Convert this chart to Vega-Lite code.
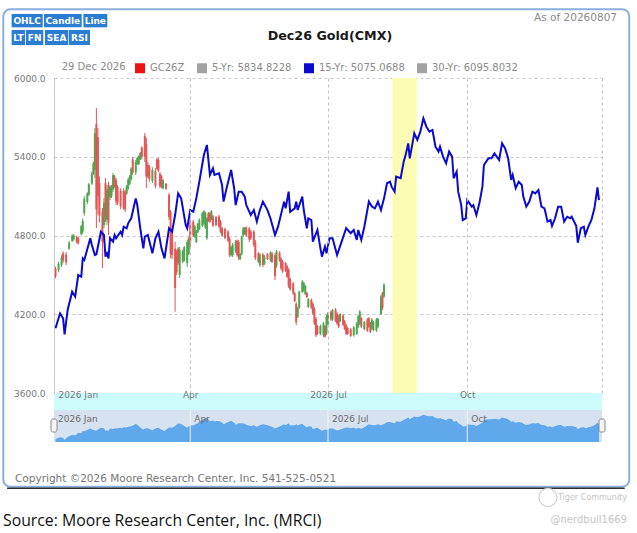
{
  "$schema": "https://vega.github.io/schema/vega-lite/v6.json",
  "width": 548,
  "height": 315,
  "autosize": "none",
  "padding": {"left": 54, "top": 78, "right": 35, "bottom": 140},
  "background": "white",
  "config": {
    "font": "DejaVu Sans",
    "view": {"stroke": null}
  },
  "datasets": {
    "fifteen": [
      {"d": "2026-01-02", "v": 4093}, {"d": "2026-01-05", "v": 4207}, {"d": "2026-01-07", "v": 4169},
      {"d": "2026-01-08", "v": 4047}, {"d": "2026-01-10", "v": 4232}, {"d": "2026-01-13", "v": 4372},
      {"d": "2026-01-15", "v": 4334}, {"d": "2026-01-17", "v": 4499}, {"d": "2026-01-19", "v": 4486},
      {"d": "2026-01-20", "v": 4626}, {"d": "2026-01-21", "v": 4613}, {"d": "2026-01-25", "v": 4779},
      {"d": "2026-01-26", "v": 4728}, {"d": "2026-01-28", "v": 4651}, {"d": "2026-01-29", "v": 4657},
      {"d": "2026-02-01", "v": 4829}, {"d": "2026-02-03", "v": 4804}, {"d": "2026-02-04", "v": 4639},
      {"d": "2026-02-05", "v": 4664}, {"d": "2026-02-06", "v": 4626}, {"d": "2026-02-07", "v": 4779},
      {"d": "2026-02-09", "v": 4753}, {"d": "2026-02-10", "v": 4804}, {"d": "2026-02-11", "v": 4779},
      {"d": "2026-02-14", "v": 4829}, {"d": "2026-02-15", "v": 4804}, {"d": "2026-02-16", "v": 4867},
      {"d": "2026-02-18", "v": 4855}, {"d": "2026-02-19", "v": 4893}, {"d": "2026-02-21", "v": 4931},
      {"d": "2026-02-24", "v": 5083}, {"d": "2026-02-25", "v": 5032}, {"d": "2026-02-27", "v": 4855},
      {"d": "2026-03-01", "v": 4702}, {"d": "2026-03-02", "v": 4791}, {"d": "2026-03-04", "v": 4804},
      {"d": "2026-03-07", "v": 4664}, {"d": "2026-03-09", "v": 4779}, {"d": "2026-03-11", "v": 4829},
      {"d": "2026-03-13", "v": 4702}, {"d": "2026-03-15", "v": 4626}, {"d": "2026-03-18", "v": 4855},
      {"d": "2026-03-20", "v": 4829}, {"d": "2026-03-22", "v": 4956}, {"d": "2026-03-24", "v": 5121},
      {"d": "2026-03-26", "v": 5083}, {"d": "2026-03-29", "v": 4880}, {"d": "2026-03-30", "v": 4855},
      {"d": "2026-04-01", "v": 4994}, {"d": "2026-04-03", "v": 4981}, {"d": "2026-04-05", "v": 5083},
      {"d": "2026-04-07", "v": 5210}, {"d": "2026-04-10", "v": 5413}, {"d": "2026-04-12", "v": 5490},
      {"d": "2026-04-14", "v": 5261}, {"d": "2026-04-16", "v": 5312}, {"d": "2026-04-17", "v": 5261},
      {"d": "2026-04-20", "v": 5274}, {"d": "2026-04-22", "v": 5185}, {"d": "2026-04-23", "v": 5058},
      {"d": "2026-04-25", "v": 5160}, {"d": "2026-04-28", "v": 5299}, {"d": "2026-04-30", "v": 5160},
      {"d": "2026-05-01", "v": 5032}, {"d": "2026-05-03", "v": 5134}, {"d": "2026-05-05", "v": 5134},
      {"d": "2026-05-07", "v": 5096}, {"d": "2026-05-08", "v": 5032}, {"d": "2026-05-09", "v": 5007},
      {"d": "2026-05-11", "v": 4956}, {"d": "2026-05-13", "v": 4994}, {"d": "2026-05-15", "v": 4906},
      {"d": "2026-05-17", "v": 4994}, {"d": "2026-05-19", "v": 5058}, {"d": "2026-05-22", "v": 4994},
      {"d": "2026-05-24", "v": 4930}, {"d": "2026-05-27", "v": 4804}, {"d": "2026-05-29", "v": 4867},
      {"d": "2026-06-02", "v": 5058}, {"d": "2026-06-03", "v": 5007}, {"d": "2026-06-05", "v": 5134},
      {"d": "2026-06-06", "v": 4981}, {"d": "2026-06-09", "v": 5007}, {"d": "2026-06-10", "v": 5058},
      {"d": "2026-06-11", "v": 4994}, {"d": "2026-06-14", "v": 5096}, {"d": "2026-06-15", "v": 4994},
      {"d": "2026-06-17", "v": 4855}, {"d": "2026-06-18", "v": 4931}, {"d": "2026-06-20", "v": 4918},
      {"d": "2026-06-21", "v": 4753}, {"d": "2026-06-24", "v": 4842}, {"d": "2026-06-26", "v": 4702},
      {"d": "2026-06-27", "v": 4639}, {"d": "2026-06-29", "v": 4715}, {"d": "2026-06-30", "v": 4664},
      {"d": "2026-07-02", "v": 4779}, {"d": "2026-07-04", "v": 4779}, {"d": "2026-07-07", "v": 4651},
      {"d": "2026-07-10", "v": 4753}, {"d": "2026-07-13", "v": 4855}, {"d": "2026-07-16", "v": 4817},
      {"d": "2026-07-18", "v": 4842}, {"d": "2026-07-20", "v": 4766}, {"d": "2026-07-21", "v": 4842},
      {"d": "2026-07-23", "v": 4766}, {"d": "2026-07-25", "v": 4867}, {"d": "2026-07-28", "v": 5058},
      {"d": "2026-07-30", "v": 5020}, {"d": "2026-08-01", "v": 5007}, {"d": "2026-08-03", "v": 5058},
      {"d": "2026-08-05", "v": 4994}, {"d": "2026-08-07", "v": 5083}, {"d": "2026-08-09", "v": 5198},
      {"d": "2026-08-11", "v": 5210}, {"d": "2026-08-12", "v": 5172}, {"d": "2026-08-14", "v": 5134},
      {"d": "2026-08-15", "v": 5248}, {"d": "2026-08-18", "v": 5236}, {"d": "2026-08-20", "v": 5363},
      {"d": "2026-08-21", "v": 5401}, {"d": "2026-08-23", "v": 5502}, {"d": "2026-08-24", "v": 5388},
      {"d": "2026-08-27", "v": 5579}, {"d": "2026-08-29", "v": 5528}, {"d": "2026-08-31", "v": 5591},
      {"d": "2026-09-02", "v": 5693}, {"d": "2026-09-04", "v": 5629}, {"d": "2026-09-06", "v": 5591},
      {"d": "2026-09-08", "v": 5604}, {"d": "2026-09-10", "v": 5477}, {"d": "2026-09-12", "v": 5439},
      {"d": "2026-09-13", "v": 5477}, {"d": "2026-09-15", "v": 5401}, {"d": "2026-09-17", "v": 5350},
      {"d": "2026-09-19", "v": 5439}, {"d": "2026-09-21", "v": 5401}, {"d": "2026-09-22", "v": 5236},
      {"d": "2026-09-24", "v": 5286}, {"d": "2026-09-25", "v": 5134}, {"d": "2026-09-27", "v": 5032},
      {"d": "2026-09-28", "v": 4918}, {"d": "2026-09-30", "v": 4931}, {"d": "2026-10-01", "v": 5070},
      {"d": "2026-10-04", "v": 5020}, {"d": "2026-10-05", "v": 5032}, {"d": "2026-10-07", "v": 4956},
      {"d": "2026-10-09", "v": 5045}, {"d": "2026-10-11", "v": 5172}, {"d": "2026-10-12", "v": 5337},
      {"d": "2026-10-15", "v": 5388}, {"d": "2026-10-17", "v": 5388}, {"d": "2026-10-19", "v": 5426},
      {"d": "2026-10-22", "v": 5375}, {"d": "2026-10-24", "v": 5502}, {"d": "2026-10-26", "v": 5464},
      {"d": "2026-10-28", "v": 5388}, {"d": "2026-10-30", "v": 5223}, {"d": "2026-10-31", "v": 5261},
      {"d": "2026-11-02", "v": 5160}, {"d": "2026-11-04", "v": 5210}, {"d": "2026-11-06", "v": 5185},
      {"d": "2026-11-07", "v": 5096}, {"d": "2026-11-09", "v": 5020}, {"d": "2026-11-11", "v": 5058},
      {"d": "2026-11-13", "v": 5134}, {"d": "2026-11-15", "v": 5121}, {"d": "2026-11-17", "v": 5147},
      {"d": "2026-11-19", "v": 5020}, {"d": "2026-11-21", "v": 5007}, {"d": "2026-11-23", "v": 4906},
      {"d": "2026-11-25", "v": 4918}, {"d": "2026-11-26", "v": 4872}, {"d": "2026-11-28", "v": 4931},
      {"d": "2026-11-30", "v": 5020}, {"d": "2026-12-02", "v": 5020}, {"d": "2026-12-04", "v": 4906},
      {"d": "2026-12-06", "v": 4943}, {"d": "2026-12-08", "v": 4931}, {"d": "2026-12-09", "v": 4943},
      {"d": "2026-12-12", "v": 4872}, {"d": "2026-12-13", "v": 4745}, {"d": "2026-12-15", "v": 4855},
      {"d": "2026-12-17", "v": 4867}, {"d": "2026-12-18", "v": 4804}, {"d": "2026-12-20", "v": 4867},
      {"d": "2026-12-22", "v": 4918}, {"d": "2026-12-24", "v": 5007}, {"d": "2026-12-26", "v": 5167},
      {"d": "2026-12-27", "v": 5070}
    ],
    "candles": [
      {"d": "2026-01-02", "o": 4545, "h": 4562, "l": 4474, "c": 4490},
      {"d": "2026-01-04", "o": 4535, "h": 4600, "l": 4520, "c": 4585},
      {"d": "2026-01-06", "o": 4575, "h": 4650, "l": 4560, "c": 4630},
      {"d": "2026-01-07", "o": 4665, "h": 4680, "l": 4590, "c": 4610},
      {"d": "2026-01-09", "o": 4655, "h": 4674, "l": 4575, "c": 4595},
      {"d": "2026-01-11", "o": 4700, "h": 4760, "l": 4690, "c": 4745},
      {"d": "2026-01-13", "o": 4760, "h": 4810, "l": 4750, "c": 4800},
      {"d": "2026-01-14", "o": 4770, "h": 4810, "l": 4760, "c": 4800},
      {"d": "2026-01-16", "o": 4790, "h": 4800, "l": 4740, "c": 4750},
      {"d": "2026-01-17", "o": 4780, "h": 4790, "l": 4730, "c": 4740},
      {"d": "2026-01-19", "o": 4810, "h": 4880, "l": 4800, "c": 4870},
      {"d": "2026-01-20", "o": 4830, "h": 4930, "l": 4810, "c": 4910},
      {"d": "2026-01-21", "o": 4970, "h": 5100, "l": 4950, "c": 5080},
      {"d": "2026-01-23", "o": 5055, "h": 5130, "l": 5040, "c": 5120},
      {"d": "2026-01-24", "o": 5110, "h": 5200, "l": 5100, "c": 5190},
      {"d": "2026-01-26", "o": 5195, "h": 5286, "l": 5185, "c": 5270},
      {"d": "2026-01-27", "o": 5270, "h": 5363, "l": 5261, "c": 5350},
      {"d": "2026-01-28", "o": 5300, "h": 5620, "l": 5238, "c": 5580},
      {"d": "2026-01-29", "o": 5650, "h": 5771, "l": 4857, "c": 5000},
      {"d": "2026-01-30", "o": 5550, "h": 5620, "l": 4960, "c": 5100},
      {"d": "2026-01-31", "o": 5200, "h": 5250, "l": 4900, "c": 4950},
      {"d": "2026-02-02", "o": 4980, "h": 5010, "l": 4552, "c": 4750},
      {"d": "2026-02-03", "o": 4880, "h": 5086, "l": 4857, "c": 5050},
      {"d": "2026-02-04", "o": 5200, "h": 5238, "l": 4903, "c": 4950},
      {"d": "2026-02-05", "o": 4920, "h": 5185, "l": 4880, "c": 5150},
      {"d": "2026-02-06", "o": 5180, "h": 5210, "l": 4804, "c": 4900},
      {"d": "2026-02-07", "o": 5090, "h": 5185, "l": 5070, "c": 5170},
      {"d": "2026-02-08", "o": 5100, "h": 5185, "l": 5086, "c": 5175},
      {"d": "2026-02-09", "o": 5150, "h": 5276, "l": 5131, "c": 5260},
      {"d": "2026-02-10", "o": 5250, "h": 5261, "l": 5160, "c": 5180},
      {"d": "2026-02-11", "o": 5220, "h": 5238, "l": 5032, "c": 5060},
      {"d": "2026-02-12", "o": 5170, "h": 5185, "l": 5032, "c": 5050},
      {"d": "2026-02-14", "o": 5140, "h": 5160, "l": 5000, "c": 5020},
      {"d": "2026-02-16", "o": 5140, "h": 5160, "l": 4994, "c": 5010},
      {"d": "2026-02-17", "o": 5130, "h": 5147, "l": 4979, "c": 5000},
      {"d": "2026-02-18", "o": 5120, "h": 5185, "l": 5109, "c": 5175},
      {"d": "2026-02-19", "o": 5160, "h": 5238, "l": 5147, "c": 5225},
      {"d": "2026-02-20", "o": 5195, "h": 5261, "l": 5185, "c": 5250},
      {"d": "2026-02-21", "o": 5230, "h": 5320, "l": 5220, "c": 5310},
      {"d": "2026-02-22", "o": 5380, "h": 5400, "l": 5261, "c": 5280},
      {"d": "2026-02-24", "o": 5280, "h": 5375, "l": 5261, "c": 5360},
      {"d": "2026-02-25", "o": 5345, "h": 5400, "l": 5337, "c": 5390},
      {"d": "2026-02-26", "o": 5345, "h": 5413, "l": 5337, "c": 5405},
      {"d": "2026-02-27", "o": 5380, "h": 5436, "l": 5375, "c": 5430},
      {"d": "2026-02-28", "o": 5470, "h": 5480, "l": 5380, "c": 5400},
      {"d": "2026-03-02", "o": 5560, "h": 5581, "l": 5360, "c": 5400},
      {"d": "2026-03-03", "o": 5500, "h": 5543, "l": 5160, "c": 5250},
      {"d": "2026-03-04", "o": 5340, "h": 5360, "l": 5238, "c": 5250},
      {"d": "2026-03-05", "o": 5320, "h": 5337, "l": 5210, "c": 5230},
      {"d": "2026-03-07", "o": 5215, "h": 5320, "l": 5200, "c": 5300},
      {"d": "2026-03-09", "o": 5290, "h": 5314, "l": 5160, "c": 5180},
      {"d": "2026-03-10", "o": 5380, "h": 5390, "l": 5299, "c": 5310},
      {"d": "2026-03-11", "o": 5375, "h": 5390, "l": 5284, "c": 5295},
      {"d": "2026-03-12", "o": 5270, "h": 5284, "l": 5160, "c": 5175},
      {"d": "2026-03-13", "o": 5250, "h": 5261, "l": 5160, "c": 5170},
      {"d": "2026-03-14", "o": 5160, "h": 5230, "l": 5150, "c": 5220},
      {"d": "2026-03-16", "o": 5195, "h": 5200, "l": 5147, "c": 5155},
      {"d": "2026-03-18", "o": 5110, "h": 5124, "l": 4918, "c": 4940},
      {"d": "2026-03-19", "o": 4980, "h": 4994, "l": 4627, "c": 4660},
      {"d": "2026-03-20", "o": 4830, "h": 4850, "l": 4620, "c": 4650},
      {"d": "2026-03-22", "o": 4700, "h": 4753, "l": 4219, "c": 4400},
      {"d": "2026-03-23", "o": 4680, "h": 4690, "l": 4499, "c": 4520},
      {"d": "2026-03-24", "o": 4700, "h": 4712, "l": 4575, "c": 4590},
      {"d": "2026-03-25", "o": 4500, "h": 4712, "l": 4476, "c": 4690},
      {"d": "2026-03-27", "o": 4600, "h": 4690, "l": 4590, "c": 4680},
      {"d": "2026-03-28", "o": 4610, "h": 4720, "l": 4600, "c": 4710},
      {"d": "2026-03-30", "o": 4590, "h": 4766, "l": 4560, "c": 4750},
      {"d": "2026-03-31", "o": 4660, "h": 4789, "l": 4651, "c": 4780},
      {"d": "2026-04-01", "o": 4900, "h": 4918, "l": 4712, "c": 4740},
      {"d": "2026-04-03", "o": 4905, "h": 4918, "l": 4789, "c": 4800},
      {"d": "2026-04-04", "o": 4790, "h": 4880, "l": 4780, "c": 4870},
      {"d": "2026-04-05", "o": 4750, "h": 4842, "l": 4743, "c": 4830},
      {"d": "2026-04-06", "o": 4825, "h": 4895, "l": 4819, "c": 4890},
      {"d": "2026-04-07", "o": 4850, "h": 4930, "l": 4840, "c": 4920},
      {"d": "2026-04-09", "o": 4875, "h": 4979, "l": 4865, "c": 4970},
      {"d": "2026-04-10", "o": 4890, "h": 4994, "l": 4880, "c": 4985},
      {"d": "2026-04-11", "o": 4860, "h": 4980, "l": 4850, "c": 4970},
      {"d": "2026-04-12", "o": 4780, "h": 4941, "l": 4766, "c": 4930},
      {"d": "2026-04-13", "o": 4970, "h": 4979, "l": 4903, "c": 4910},
      {"d": "2026-04-14", "o": 4970, "h": 4979, "l": 4895, "c": 4905},
      {"d": "2026-04-15", "o": 4925, "h": 4994, "l": 4918, "c": 4985},
      {"d": "2026-04-16", "o": 4945, "h": 4956, "l": 4865, "c": 4875},
      {"d": "2026-04-18", "o": 4940, "h": 4950, "l": 4870, "c": 4880},
      {"d": "2026-04-20", "o": 4945, "h": 4956, "l": 4857, "c": 4870},
      {"d": "2026-04-21", "o": 4905, "h": 4918, "l": 4819, "c": 4830},
      {"d": "2026-04-22", "o": 4855, "h": 4865, "l": 4789, "c": 4800},
      {"d": "2026-04-24", "o": 4850, "h": 4860, "l": 4770, "c": 4780},
      {"d": "2026-04-26", "o": 4830, "h": 4842, "l": 4750, "c": 4760},
      {"d": "2026-04-27", "o": 4775, "h": 4789, "l": 4636, "c": 4650},
      {"d": "2026-04-28", "o": 4650, "h": 4720, "l": 4640, "c": 4710},
      {"d": "2026-04-29", "o": 4650, "h": 4743, "l": 4636, "c": 4730},
      {"d": "2026-05-01", "o": 4680, "h": 4766, "l": 4667, "c": 4755},
      {"d": "2026-05-02", "o": 4760, "h": 4770, "l": 4640, "c": 4650},
      {"d": "2026-05-03", "o": 4750, "h": 4766, "l": 4613, "c": 4630},
      {"d": "2026-05-04", "o": 4620, "h": 4667, "l": 4613, "c": 4660},
      {"d": "2026-05-05", "o": 4660, "h": 4800, "l": 4650, "c": 4790},
      {"d": "2026-05-06", "o": 4800, "h": 4865, "l": 4789, "c": 4855},
      {"d": "2026-05-07", "o": 4810, "h": 4865, "l": 4804, "c": 4860},
      {"d": "2026-05-08", "o": 4860, "h": 4870, "l": 4790, "c": 4800},
      {"d": "2026-05-10", "o": 4855, "h": 4865, "l": 4750, "c": 4770},
      {"d": "2026-05-11", "o": 4830, "h": 4842, "l": 4766, "c": 4780},
      {"d": "2026-05-13", "o": 4830, "h": 4842, "l": 4712, "c": 4730},
      {"d": "2026-05-14", "o": 4750, "h": 4766, "l": 4613, "c": 4630},
      {"d": "2026-05-16", "o": 4665, "h": 4674, "l": 4590, "c": 4600},
      {"d": "2026-05-17", "o": 4575, "h": 4667, "l": 4560, "c": 4655},
      {"d": "2026-05-19", "o": 4655, "h": 4667, "l": 4560, "c": 4575},
      {"d": "2026-05-20", "o": 4585, "h": 4651, "l": 4575, "c": 4640},
      {"d": "2026-05-22", "o": 4660, "h": 4667, "l": 4613, "c": 4620},
      {"d": "2026-05-24", "o": 4610, "h": 4680, "l": 4600, "c": 4670},
      {"d": "2026-05-25", "o": 4665, "h": 4674, "l": 4590, "c": 4600},
      {"d": "2026-05-27", "o": 4650, "h": 4667, "l": 4461, "c": 4490},
      {"d": "2026-05-28", "o": 4570, "h": 4690, "l": 4553, "c": 4680},
      {"d": "2026-05-30", "o": 4670, "h": 4680, "l": 4600, "c": 4610},
      {"d": "2026-05-31", "o": 4625, "h": 4636, "l": 4537, "c": 4550},
      {"d": "2026-06-01", "o": 4600, "h": 4613, "l": 4514, "c": 4525},
      {"d": "2026-06-03", "o": 4590, "h": 4598, "l": 4522, "c": 4530},
      {"d": "2026-06-04", "o": 4565, "h": 4575, "l": 4476, "c": 4485},
      {"d": "2026-06-05", "o": 4540, "h": 4552, "l": 4400, "c": 4415},
      {"d": "2026-06-06", "o": 4470, "h": 4480, "l": 4380, "c": 4390},
      {"d": "2026-06-08", "o": 4435, "h": 4446, "l": 4347, "c": 4360},
      {"d": "2026-06-09", "o": 4360, "h": 4370, "l": 4293, "c": 4300},
      {"d": "2026-06-10", "o": 4280, "h": 4293, "l": 4118, "c": 4140},
      {"d": "2026-06-11", "o": 4180, "h": 4255, "l": 4171, "c": 4245},
      {"d": "2026-06-12", "o": 4250, "h": 4380, "l": 4240, "c": 4370},
      {"d": "2026-06-14", "o": 4370, "h": 4461, "l": 4362, "c": 4450},
      {"d": "2026-06-15", "o": 4380, "h": 4446, "l": 4370, "c": 4440},
      {"d": "2026-06-16", "o": 4355, "h": 4423, "l": 4347, "c": 4415},
      {"d": "2026-06-17", "o": 4365, "h": 4370, "l": 4324, "c": 4330},
      {"d": "2026-06-18", "o": 4255, "h": 4324, "l": 4247, "c": 4315},
      {"d": "2026-06-20", "o": 4310, "h": 4320, "l": 4240, "c": 4250},
      {"d": "2026-06-21", "o": 4280, "h": 4293, "l": 4194, "c": 4205},
      {"d": "2026-06-22", "o": 4240, "h": 4255, "l": 4118, "c": 4130},
      {"d": "2026-06-23", "o": 4165, "h": 4179, "l": 4027, "c": 4040},
      {"d": "2026-06-24", "o": 4110, "h": 4118, "l": 4042, "c": 4050},
      {"d": "2026-06-26", "o": 4050, "h": 4120, "l": 4040, "c": 4110},
      {"d": "2026-06-28", "o": 4040, "h": 4141, "l": 4027, "c": 4130},
      {"d": "2026-06-29", "o": 4110, "h": 4118, "l": 4019, "c": 4030},
      {"d": "2026-06-30", "o": 4055, "h": 4194, "l": 4042, "c": 4180},
      {"d": "2026-07-01", "o": 4125, "h": 4217, "l": 4118, "c": 4210},
      {"d": "2026-07-03", "o": 4220, "h": 4230, "l": 4150, "c": 4160},
      {"d": "2026-07-04", "o": 4160, "h": 4240, "l": 4150, "c": 4230},
      {"d": "2026-07-06", "o": 4235, "h": 4247, "l": 4141, "c": 4150},
      {"d": "2026-07-07", "o": 4205, "h": 4217, "l": 4118, "c": 4130},
      {"d": "2026-07-08", "o": 4185, "h": 4194, "l": 4095, "c": 4105},
      {"d": "2026-07-09", "o": 4145, "h": 4209, "l": 4141, "c": 4200},
      {"d": "2026-07-11", "o": 4190, "h": 4200, "l": 4110, "c": 4120},
      {"d": "2026-07-12", "o": 4145, "h": 4156, "l": 4080, "c": 4090},
      {"d": "2026-07-13", "o": 4115, "h": 4126, "l": 4042, "c": 4050},
      {"d": "2026-07-14", "o": 4095, "h": 4103, "l": 4042, "c": 4050},
      {"d": "2026-07-16", "o": 4085, "h": 4095, "l": 4027, "c": 4035},
      {"d": "2026-07-18", "o": 4040, "h": 4110, "l": 4030, "c": 4100},
      {"d": "2026-07-20", "o": 4050, "h": 4141, "l": 4042, "c": 4130},
      {"d": "2026-07-21", "o": 4105, "h": 4194, "l": 4095, "c": 4185},
      {"d": "2026-07-22", "o": 4130, "h": 4232, "l": 4118, "c": 4220},
      {"d": "2026-07-23", "o": 4170, "h": 4179, "l": 4095, "c": 4105},
      {"d": "2026-07-25", "o": 4085, "h": 4150, "l": 4080, "c": 4140},
      {"d": "2026-07-27", "o": 4160, "h": 4171, "l": 4065, "c": 4075},
      {"d": "2026-07-28", "o": 4170, "h": 4179, "l": 4095, "c": 4105},
      {"d": "2026-07-29", "o": 4130, "h": 4141, "l": 4057, "c": 4065},
      {"d": "2026-07-30", "o": 4090, "h": 4171, "l": 4080, "c": 4160},
      {"d": "2026-07-31", "o": 4080, "h": 4150, "l": 4070, "c": 4140},
      {"d": "2026-08-02", "o": 4075, "h": 4171, "l": 4065, "c": 4160},
      {"d": "2026-08-03", "o": 4105, "h": 4171, "l": 4095, "c": 4165},
      {"d": "2026-08-05", "o": 4200, "h": 4347, "l": 4194, "c": 4335},
      {"d": "2026-08-06", "o": 4360, "h": 4370, "l": 4232, "c": 4250},
      {"d": "2026-08-07", "o": 4335, "h": 4438, "l": 4324, "c": 4425}
    ],
    "navTicks": [
      {"d": "2026-01-01", "lab": "2026 Jan"},
      {"d": "2026-04-01", "lab": "Apr"},
      {"d": "2026-07-01", "lab": "2026 Jul"},
      {"d": "2026-10-01", "lab": "Oct"}
    ],
    "ends": [{"d": "2026-01-01"}, {"d": "2026-12-29"}]
  },
  "layer": [
    {
      "layer": [
        {
          "data": {"values": [{}]},
          "mark": {"type": "rect", "filled": false, "stroke": "#8aaee0", "strokeWidth": 2, "cornerRadius": 7},
          "encoding": {
            "x": {"datum": {"year": 2025, "month": 11, "date": 28, "hours": 12, "utc": true}, "type": "temporal"},
            "x2": {"datum": {"year": 2027, "month": 1, "date": 16, "utc": true}},
            "y": {"datum": 6523, "type": "quantitative"},
            "y2": {"datum": 2886}
          }
        },
        {
          "data": {"values": [{}]},
          "mark": {"type": "rule", "color": "#2e2e2e", "strokeWidth": 1.5},
          "encoding": {
            "x": {"datum": {"year": 2025, "month": 12, "date": 1, "utc": true}, "type": "temporal"},
            "x2": {"datum": {"year": 2027, "month": 1, "date": 13, "utc": true}},
            "y": {"datum": 2875, "type": "quantitative"}
          }
        },
        {
          "data": {"values": [{}]},
          "mark": {"type": "text", "text": "Dec26 Gold(CMX)", "color": "#1a1a1a", "fontWeight": "bold", "fontSize": 12.7, "align": "center", "baseline": "middle"},
          "encoding": {
            "x": {"datum": {"year": 2026, "month": 7, "date": 2, "hours": 7, "utc": true}, "type": "temporal"},
            "y": {"datum": 6320, "type": "quantitative"}
          }
        },
        {
          "data": {"values": [{}]},
          "mark": {"type": "text", "text": "29 Dec 2026", "color": "#8a8a8a", "fontSize": 10, "align": "left", "baseline": "middle"},
          "encoding": {
            "x": {"datum": {"year": 2026, "month": 1, "date": 6, "hours": 2, "utc": true}, "type": "temporal"},
            "y": {"datum": 6084, "type": "quantitative"}
          }
        },
        {
          "data": {"values": [{}]},
          "mark": {"type": "rect", "color": "#2a7dd2"},
          "encoding": {
            "x": {"datum": {"year": 2025, "month": 12, "date": 4, "utc": true}, "type": "temporal"},
            "x2": {"datum": {"year": 2025, "month": 12, "date": 24, "hours": 13, "utc": true}},
            "y": {"datum": 6488, "type": "quantitative"},
            "y2": {"datum": 6386}
          }
        },
        {
          "data": {"values": [{}]},
          "mark": {"type": "rect", "color": "#2a7dd2"},
          "encoding": {
            "x": {"datum": {"year": 2025, "month": 12, "date": 25, "hours": 10, "utc": true}, "type": "temporal"},
            "x2": {"datum": {"year": 2026, "month": 1, "date": 19, "hours": 7, "utc": true}},
            "y": {"datum": 6488, "type": "quantitative"},
            "y2": {"datum": 6386}
          }
        },
        {
          "data": {"values": [{}]},
          "mark": {"type": "rect", "color": "#2a7dd2"},
          "encoding": {
            "x": {"datum": {"year": 2026, "month": 1, "date": 20, "hours": 10, "utc": true}, "type": "temporal"},
            "x2": {"datum": {"year": 2026, "month": 2, "date": 5, "hours": 5, "utc": true}},
            "y": {"datum": 6488, "type": "quantitative"},
            "y2": {"datum": 6386}
          }
        },
        {
          "data": {"values": [{}]},
          "mark": {"type": "rect", "color": "#2a7dd2"},
          "encoding": {
            "x": {"datum": {"year": 2025, "month": 12, "date": 4, "utc": true}, "type": "temporal"},
            "x2": {"datum": {"year": 2025, "month": 12, "date": 12, "hours": 20, "utc": true}},
            "y": {"datum": 6366, "type": "quantitative"},
            "y2": {"datum": 6251}
          }
        },
        {
          "data": {"values": [{}]},
          "mark": {"type": "rect", "color": "#2a7dd2"},
          "encoding": {
            "x": {"datum": {"year": 2025, "month": 12, "date": 13, "hours": 12, "utc": true}, "type": "temporal"},
            "x2": {"datum": {"year": 2025, "month": 12, "date": 24, "hours": 22, "utc": true}},
            "y": {"datum": 6366, "type": "quantitative"},
            "y2": {"datum": 6251}
          }
        },
        {
          "data": {"values": [{}]},
          "mark": {"type": "rect", "color": "#2a7dd2"},
          "encoding": {
            "x": {"datum": {"year": 2025, "month": 12, "date": 26, "hours": 1, "utc": true}, "type": "temporal"},
            "x2": {"datum": {"year": 2026, "month": 1, "date": 10, "hours": 11, "utc": true}},
            "y": {"datum": 6366, "type": "quantitative"},
            "y2": {"datum": 6251}
          }
        },
        {
          "data": {"values": [{}]},
          "mark": {"type": "rect", "color": "#2a7dd2"},
          "encoding": {
            "x": {"datum": {"year": 2026, "month": 1, "date": 10, "hours": 22, "utc": true}, "type": "temporal"},
            "x2": {"datum": {"year": 2026, "month": 1, "date": 24, "hours": 19, "utc": true}},
            "y": {"datum": 6366, "type": "quantitative"},
            "y2": {"datum": 6251}
          }
        },
        {
          "data": {"values": [{}]},
          "mark": {"type": "text", "text": "OHLC", "color": "white", "fontWeight": "bold", "fontSize": 9, "align": "center", "baseline": "middle"},
          "encoding": {
            "x": {"datum": {"year": 2025, "month": 12, "date": 14, "hours": 7, "utc": true}, "type": "temporal"},
            "y": {"datum": 6437, "type": "quantitative"}
          }
        },
        {
          "data": {"values": [{}]},
          "mark": {"type": "text", "text": "Candle", "color": "white", "fontWeight": "bold", "fontSize": 9, "align": "center", "baseline": "middle"},
          "encoding": {
            "x": {"datum": {"year": 2026, "month": 1, "date": 6, "hours": 20, "utc": true}, "type": "temporal"},
            "y": {"datum": 6437, "type": "quantitative"}
          }
        },
        {
          "data": {"values": [{}]},
          "mark": {"type": "text", "text": "Line", "color": "white", "fontWeight": "bold", "fontSize": 9, "align": "center", "baseline": "middle"},
          "encoding": {
            "x": {"datum": {"year": 2026, "month": 1, "date": 28, "hours": 7, "utc": true}, "type": "temporal"},
            "y": {"datum": 6437, "type": "quantitative"}
          }
        },
        {
          "data": {"values": [{}]},
          "mark": {"type": "text", "text": "LT", "color": "white", "fontWeight": "bold", "fontSize": 9, "align": "center", "baseline": "middle"},
          "encoding": {
            "x": {"datum": {"year": 2025, "month": 12, "date": 8, "hours": 11, "utc": true}, "type": "temporal"},
            "y": {"datum": 6308, "type": "quantitative"}
          }
        },
        {
          "data": {"values": [{}]},
          "mark": {"type": "text", "text": "FN", "color": "white", "fontWeight": "bold", "fontSize": 9, "align": "center", "baseline": "middle"},
          "encoding": {
            "x": {"datum": {"year": 2025, "month": 12, "date": 19, "hours": 5, "utc": true}, "type": "temporal"},
            "y": {"datum": 6308, "type": "quantitative"}
          }
        },
        {
          "data": {"values": [{}]},
          "mark": {"type": "text", "text": "SEA", "color": "white", "fontWeight": "bold", "fontSize": 9, "align": "center", "baseline": "middle"},
          "encoding": {
            "x": {"datum": {"year": 2026, "month": 1, "date": 2, "hours": 18, "utc": true}, "type": "temporal"},
            "y": {"datum": 6308, "type": "quantitative"}
          }
        },
        {
          "data": {"values": [{}]},
          "mark": {"type": "text", "text": "RSI", "color": "white", "fontWeight": "bold", "fontSize": 9, "align": "center", "baseline": "middle"},
          "encoding": {
            "x": {"datum": {"year": 2026, "month": 1, "date": 17, "hours": 20, "utc": true}, "type": "temporal"},
            "y": {"datum": 6308, "type": "quantitative"}
          }
        },
        {
          "data": {"values": [{}]},
          "mark": {"type": "text", "text": "As of 20260807", "color": "#8a8a8a", "fontSize": 10.5, "align": "right", "baseline": "middle"},
          "encoding": {
            "x": {"datum": {"year": 2027, "month": 1, "date": 7, "hours": 22, "utc": true}, "type": "temporal"},
            "y": {"datum": 6457, "type": "quantitative"}
          }
        },
        {
          "data": {"values": [{}]},
          "mark": {"type": "text", "text": "Copyright ©2026 Moore Research Center, Inc. 541-525-0521", "color": "#777777", "fontSize": 10.5, "align": "left", "baseline": "middle"},
          "encoding": {
            "x": {"datum": {"year": 2025, "month": 12, "date": 6, "hours": 6, "utc": true}, "type": "temporal"},
            "y": {"datum": 2945, "type": "quantitative"}
          }
        },
        {
          "data": {"values": [{}]},
          "mark": {"type": "text", "text": "Source: Moore Research Center, Inc. (MRCI)", "font": "Open Sans", "color": "#111111", "fontSize": 15.8, "align": "left", "baseline": "middle"},
          "encoding": {
            "x": {"datum": {"year": 2025, "month": 11, "date": 28, "hours": 7, "utc": true}, "type": "temporal"},
            "y": {"datum": 2625, "type": "quantitative"}
          }
        },
        {
          "data": {"values": [{}]},
          "mark": {"type": "text", "text": "Tiger Community", "color": "#c4c4c4", "fontSize": 8, "align": "right", "baseline": "middle"},
          "encoding": {
            "x": {"datum": {"year": 2027, "month": 1, "date": 14, "hours": 12, "utc": true}, "type": "temporal"},
            "y": {"datum": 2800, "type": "quantitative"}
          }
        },
        {
          "data": {"values": [{}]},
          "mark": {"type": "text", "text": "@nerdbull1669", "color": "#c4c4c4", "fontSize": 10, "align": "right", "baseline": "middle"},
          "encoding": {
            "x": {"datum": {"year": 2027, "month": 1, "date": 14, "hours": 12, "utc": true}, "type": "temporal"},
            "y": {"datum": 2632, "type": "quantitative"}
          }
        },
        {
          "data": {"values": [{}]},
          "mark": {"type": "point", "shape": "circle", "size": 330, "filled": false, "stroke": "#d0d0d0", "strokeWidth": 1.2, "opacity": 1},
          "encoding": {
            "x": {"datum": {"year": 2026, "month": 11, "date": 23, "hours": 7, "utc": true}, "type": "temporal"},
            "y": {"datum": 2804, "type": "quantitative"}
          }
        },
        {
          "data": {"values": [{}]},
          "mark": {"type": "rect", "color": "#ccfcfc"},
          "encoding": {
            "x": {"datum": {"year": 2026, "month": 1, "date": 1, "utc": true}, "type": "temporal"},
            "x2": {"datum": {"year": 2026, "month": 12, "date": 29, "utc": true}},
            "y": {"datum": 3600, "type": "quantitative"},
            "y2": {"datum": 3470}
          }
        },
        {
          "data": {"values": [{}]},
          "mark": {"type": "rect", "color": "#fcfcb4"},
          "encoding": {
            "x": {"datum": {"year": 2026, "month": 8, "date": 12, "hours": 12, "utc": true}, "type": "temporal"},
            "x2": {"datum": {"year": 2026, "month": 8, "date": 28, "hours": 15, "utc": true}},
            "y": {"datum": 3600, "type": "quantitative"},
            "y2": {"datum": 6000}
          }
        },
        {
          "data": {"name": "candles"},
          "mark": {"type": "rule", "strokeWidth": 1},
          "encoding": {
            "x": {"field": "d", "type": "temporal", "title": null},
            "y": {"field": "l", "type": "quantitative", "title": null},
            "y2": {"field": "h"},
            "color": {"condition": {"test": "datum.c >= datum.o", "value": "#4ea64e"}, "value": "#e35656"}
          }
        },
        {
          "data": {"name": "candles"},
          "mark": {"type": "bar", "width": 2},
          "encoding": {
            "x": {"field": "d", "type": "temporal", "title": null},
            "y": {"field": "o", "type": "quantitative", "title": null},
            "y2": {"field": "c"},
            "color": {"condition": {"test": "datum.c >= datum.o", "value": "#4ea64e"}, "value": "#e35656"}
          }
        },
        {
          "data": {"name": "fifteen"},
          "mark": {"type": "line", "strokeWidth": 2, "interpolate": "linear"},
          "encoding": {
            "x": {
              "field": "d",
              "type": "temporal",
              "scale": {
                "type": "utc",
                "padding": 0,
                "domain": [
                  {"year": 2026, "month": 1, "date": 1, "utc": true},
                  {"year": 2026, "month": 12, "date": 29, "utc": true}
                ]
              },
              "axis": {
                "title": null,
                "values": [
                  {"year": 2026, "month": 1, "date": 1, "utc": true},
                  {"year": 2026, "month": 4, "date": 1, "utc": true},
                  {"year": 2026, "month": 7, "date": 1, "utc": true},
                  {"year": 2026, "month": 10, "date": 1, "utc": true},
                  {"year": 2026, "month": 12, "date": 29, "utc": true}
                ],
                "labelExpr": "utcmonth(datum.value) == 0 || utcmonth(datum.value) == 6 ? utcFormat(datum.value, '%Y %b') : (utcmonth(datum.value) == 11 ? '' : utcFormat(datum.value, '%b'))",
                "grid": true,
                "gridDash": [3, 3],
                "gridColor": "#c2c2c2",
                "domain": false,
                "ticks": false,
                "labelFontSize": 9,
                "labelColor": "#777777",
                "labelBaseline": "middle",
                "labelPadding": 1,
                "labelFlush": false,
                "labelOverlap": false,
                "labelAlign": {"condition": {"test": "utcmonth(datum.value) == 0", "value": "left"}, "value": "center"},
                "labelOffset": {"condition": {"test": "utcmonth(datum.value) == 0", "value": 4}, "value": 0},
                "zindex": 1
              }
            },
            "y": {
              "field": "v",
              "type": "quantitative",
              "scale": {"domain": [3600, 6000], "nice": false, "zero": false},
              "axis": {
                "title": null,
                "values": [3600, 3750, 3900, 4050, 4200, 4350, 4500, 4650, 4800, 4950, 5100, 5250, 5400, 5550, 5700, 5850, 6000],
                "labelExpr": "datum.value % 600 == 0 ? format(datum.value, '.1f') : ''",
                "grid": true,
                "gridDash": [3, 3],
                "gridColor": "#c6c6c6",
                "domainColor": "#cfcfcf",
                "ticks": false,
                "labelPadding": 9,
                "labelFontSize": 9,
                "labelColor": "#777777"
              }
            },
            "color": {
              "datum": "15-Yr: 5075.0688",
              "type": "nominal",
              "scale": {
                "domain": ["GC26Z", "5-Yr: 5834.8228", "15-Yr: 5075.0688", "30-Yr: 6095.8032"],
                "range": ["#ee1111", "#a3a3a3", "#0a0ad0", "#a3a3a3"]
              },
              "legend": {
                "title": null,
                "orient": "none",
                "legendX": 81,
                "legendY": -15,
                "direction": "horizontal",
                "symbolType": "square",
                "symbolSize": 25,
                "symbolStrokeWidth": 5,
                "symbolOpacity": 1,
                "labelFontSize": 10,
                "labelColor": "#8a8a8a",
                "labelOffset": 5,
                "columnPadding": 4
              }
            }
          }
        }
      ]
    },
    {
      "layer": [
        {
          "data": {"values": [{}]},
          "mark": {"type": "rect", "color": "#d7e2f0"},
          "encoding": {
            "x": {"datum": {"year": 2026, "month": 1, "date": 1, "utc": true}, "type": "temporal"},
            "x2": {"datum": {"year": 2026, "month": 12, "date": 29, "utc": true}},
            "y": {"datum": 6000, "type": "quantitative", "scale": {"domain": [3900, 6000], "range": [364, 332], "nice": false, "zero": false}, "axis": null},
            "y2": {"datum": 3900}
          }
        },
        {
          "data": {"name": "fifteen"},
          "mark": {"type": "area", "color": "#5fa8ec", "opacity": 1, "interpolate": "linear"},
          "encoding": {
            "x": {"field": "d", "type": "temporal", "title": null},
            "y": {"field": "v", "type": "quantitative", "scale": {"domain": [3900, 6000], "range": [364, 332], "nice": false, "zero": false}, "axis": null},
            "y2": {"datum": 3900}
          }
        },
        {
          "data": {"name": "navTicks"},
          "transform": [{"filter": "datum.lab != '2026 Jan'"}],
          "mark": {"type": "rule", "color": "#eef3f9", "strokeWidth": 1},
          "encoding": {
            "x": {"field": "d", "type": "temporal", "title": null},
            "y": {"datum": 6000, "type": "quantitative", "axis": null},
            "y2": {"datum": 3900}
          }
        },
        {
          "data": {"name": "navTicks"},
          "mark": {"type": "text", "align": "left", "baseline": "middle", "dx": 4, "fontSize": 9, "color": "#6b6b6b"},
          "encoding": {
            "x": {"field": "d", "type": "temporal", "title": null},
            "y": {"datum": 5409, "type": "quantitative", "axis": null},
            "text": {"field": "lab"}
          }
        },
        {
          "data": {"name": "ends"},
          "mark": {"type": "bar", "width": 6, "cornerRadius": 2, "fill": "#f4f4f4", "stroke": "#8a8a8a", "strokeWidth": 1},
          "encoding": {
            "x": {"field": "d", "type": "temporal", "title": null},
            "y": {"datum": 5409, "type": "quantitative", "axis": null},
            "y2": {"datum": 4556}
          }
        }
      ]
    }
  ],
  "resolve": {"scale": {"y": "independent"}}
}
